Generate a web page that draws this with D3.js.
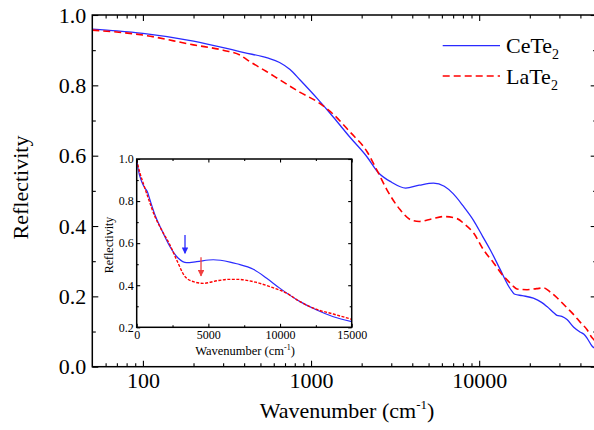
<!DOCTYPE html>
<html><head><meta charset="utf-8">
<script src="https://cdn.jsdelivr.net/npm/d3@7/dist/d3.min.js"></script>
<style>
html,body{margin:0;padding:0;background:#fff;}
svg{display:block;font-family:"Liberation Serif","Times New Roman",serif;}
</style></head>
<body>
<svg id="c" width="594" height="430"></svg>
<script>
// ---------- data ----------
const seriesNames = ["CeTe", "LaTe"];
const seriesColors = ["#2a2aff", "#ff0000"];
// main plot: wavenumber (cm^-1) vs reflectivity
const ceteWave = [50,70,100,200,400,550,650,750,861,1100,1355,1700,2149,2500,3000,3650,4400,5350,6200,7000,8000,9230,10500,11650,13350,15000,15700,16300,18000,21000,23500,25300,28000,29000,31000,33300,36500,40000,42000,44000,47000,50000];
const ceteRefl = [0.960,0.955,0.948,0.926,0.893,0.878,0.865,0.845,0.815,0.760,0.710,0.653,0.597,0.553,0.525,0.508,0.516,0.522,0.513,0.492,0.458,0.417,0.370,0.332,0.276,0.228,0.214,0.206,0.202,0.195,0.183,0.171,0.152,0.146,0.143,0.134,0.112,0.098,0.092,0.080,0.058,0.050];
const lateWave = [50,100,200,300,378,434,540,655,861,1100,1355,1700,2149,2500,2827,3393,3985,4400,5200,6140,7380,8200,9265,10620,12190,13970,14650,16030,16790,19270,22000,24200,26500,29050,33340,36490,39990,43830,46970,50000];
const lateRefl = [0.957,0.943,0.915,0.900,0.886,0.867,0.840,0.815,0.780,0.752,0.718,0.668,0.612,0.553,0.503,0.446,0.416,0.413,0.420,0.427,0.421,0.405,0.380,0.332,0.295,0.257,0.247,0.228,0.221,0.219,0.222,0.224,0.212,0.196,0.167,0.148,0.126,0.105,0.082,0.070];
// inset: linear wavenumber
const insetCeteWave = [0,112,349,579,740,928,1277,1744,2323,2904,3488,4186,5344,6510,6977,8135,9070,10000,11395,12560,13720,15000];
const insetCeteRefl = [1.000,0.948,0.892,0.861,0.845,0.805,0.734,0.662,0.583,0.528,0.507,0.512,0.521,0.510,0.502,0.476,0.433,0.385,0.322,0.282,0.250,0.227];
const insetLateWave = [0,230,460,810,1277,1744,2323,2791,3372,3953,4651,5582,6510,6977,8135,9300,10465,11395,12560,13720,15000];
const insetLateRefl = [0.995,0.932,0.884,0.813,0.726,0.662,0.591,0.520,0.441,0.417,0.409,0.421,0.428,0.428,0.417,0.393,0.362,0.322,0.285,0.263,0.238];
// arrows in inset: [wavenumber, from, to]
const arrowCete = [3370, 0.639, 0.552];
const arrowLate = [4487, 0.533, 0.444];
// ticks
const xMajor = [100, 1000, 10000];
const xMinor = [60,70,80,90,200,300,400,500,600,700,800,900,2000,3000,4000,5000,6000,7000,8000,9000,20000,30000,40000];
const yMajor = [0, 0.2, 0.4, 0.6, 0.8, 1.0];
const yMinor = [0.1, 0.3, 0.5, 0.7, 0.9];
const ixMajor = [0, 5000, 10000, 15000];
const ixMinor = [2500, 7500, 12500];
const iyMajor = [0.2, 0.4, 0.6, 0.8, 1.0];
const iyMinor = [0.3, 0.5, 0.7, 0.9];

// ---------- drawing ----------
const svg = d3.select("#c");
const L = 92.3, R = 596.7, T = 15, B = 366.7;
const x = d3.scaleLog().domain([50, 50000]).range([L, R]);
const y = d3.scaleLinear().domain([0, 1]).range([B, T]);
const fmt1 = d3.format(".1f");

function axes(g, xs, ys, xMaj, xMin, yMaj, yMin, maj, min, fs, xfmt, yfmt, pad) {
  const bx = ys.range()[0], tx = ys.range()[1];
  const lx = xs.range()[0], rx = xs.range()[1];
  const put = (axis, tr, lab) => {
    const a = g.append("g").attr("transform", tr).call(axis);
    a.select(".domain").remove();
    a.selectAll("line").attr("stroke", "#000").attr("stroke-width", 1.1);
    a.selectAll("text").attr("font-family", "Liberation Serif").attr("font-size", fs).attr("fill", "#000");
    if (!lab) a.selectAll("text").remove();
    return a;
  };
  put(d3.axisBottom(xs).tickValues(xMaj).tickSize(-maj).tickPadding(pad).tickFormat(xfmt), `translate(0,${bx})`, true);
  put(d3.axisBottom(xs).tickValues(xMin).tickSize(-min), `translate(0,${bx})`, false);
  put(d3.axisTop(xs).tickValues(xMaj).tickSize(-maj), `translate(0,${tx})`, false);
  put(d3.axisTop(xs).tickValues(xMin).tickSize(-min), `translate(0,${tx})`, false);
  put(d3.axisLeft(ys).tickValues(yMaj).tickSize(-maj).tickPadding(pad).tickFormat(yfmt), `translate(${lx},0)`, true);
  put(d3.axisLeft(ys).tickValues(yMin).tickSize(-min), `translate(${lx},0)`, false);
  put(d3.axisRight(ys).tickValues(yMaj).tickSize(-maj), `translate(${rx},0)`, false);
  put(d3.axisRight(ys).tickValues(yMin).tickSize(-min), `translate(${rx},0)`, false);
  g.append("rect").attr("x", lx).attr("y", tx).attr("width", rx - lx).attr("height", bx - tx)
    .attr("fill", "none").attr("stroke", "#000").attr("stroke-width", 1.5);
}

// main curves
const mainLine = d3.line().x(d => x(d[0])).y(d => y(d[1])).curve(d3.curveMonotoneX);
svg.append("clipPath").attr("id", "mclip").append("rect")
  .attr("x", L).attr("y", T).attr("width", R - L).attr("height", B - T);
const curves = svg.append("g").attr("clip-path", "url(#mclip)");
curves.append("path").datum(d3.zip(ceteWave, ceteRefl)).attr("d", mainLine)
  .attr("fill", "none").attr("stroke", seriesColors[0]).attr("stroke-width", 1.3);
curves.append("path").datum(d3.zip(lateWave, lateRefl)).attr("d", mainLine)
  .attr("fill", "none").attr("stroke", seriesColors[1]).attr("stroke-width", 1.6).attr("stroke-dasharray", "7,4");

const gMain = svg.append("g");
axes(gMain, x, y, xMajor, xMinor, yMajor, yMinor, 6, 3.5, 22, d3.format("d"), fmt1, 6);

// axis titles
const xt = svg.append("text").attr("x", 347).attr("y", 418).attr("text-anchor", "middle")
  .attr("font-size", 22).attr("fill", "#000");
xt.append("tspan").text("Wavenumber (cm");
xt.append("tspan").attr("font-size", 13).attr("dy", -9).text("-1");
xt.append("tspan").attr("dy", 9).text(")");
svg.append("text").attr("transform", "translate(28,187.5) rotate(-90)").attr("text-anchor", "middle")
  .attr("font-size", 22).attr("fill", "#000").text("Reflectivity");

// legend
const legY = [45.7, 76];
seriesNames.forEach((n, i) => {
  const ln = svg.append("line").attr("x1", 442.7).attr("x2", 500).attr("y1", legY[i]).attr("y2", legY[i])
    .attr("stroke", seriesColors[i]).attr("stroke-width", i ? 1.6 : 1.3);
  if (i) ln.attr("stroke-dasharray", "7,4");
  const t = svg.append("text").attr("x", 506).attr("y", legY[i] + 7.5).attr("font-size", 22).attr("fill", "#000");
  t.append("tspan").text(n);
  t.append("tspan").attr("font-size", 14).attr("dy", 6).text("2");
});

// ---------- inset ----------
const iL = 136.7, iR = 351.7, iT = 159, iB = 327.3;
const ix = d3.scaleLinear().domain([0, 15000]).range([iL, iR]);
const iy = d3.scaleLinear().domain([0.2, 1.0]).range([iB, iT]);
svg.append("rect").attr("x", iL).attr("y", iT).attr("width", iR - iL).attr("height", iB - iT).attr("fill", "#fff");
const insetLine = d3.line().x(d => ix(d[0])).y(d => iy(d[1])).curve(d3.curveMonotoneX);
svg.append("path").datum(d3.zip(insetCeteWave, insetCeteRefl)).attr("d", insetLine)
  .attr("fill", "none").attr("stroke", seriesColors[0]).attr("stroke-width", 1.2);
svg.append("path").datum(d3.zip(insetLateWave, insetLateRefl)).attr("d", insetLine)
  .attr("fill", "none").attr("stroke", seriesColors[1]).attr("stroke-width", 1.4).attr("stroke-dasharray", "3,1.5");

// arrows
const defs = svg.append("defs");
[["ab", "#2a2aff"], ["ar", "#f04040"]].forEach(([id, c]) => {
  defs.append("marker").attr("id", id).attr("viewBox", "0 0 10 10").attr("refX", 9).attr("refY", 5)
    .attr("markerWidth", 5).attr("markerHeight", 5).attr("orient", "auto")
    .append("path").attr("d", "M0,0 L10,5 L0,10 z").attr("fill", c);
});
[[arrowCete, "#2a2aff", "ab"], [arrowLate, "#f04040", "ar"]].forEach(([a, c, id]) => {
  svg.append("line").attr("x1", ix(a[0])).attr("x2", ix(a[0])).attr("y1", iy(a[1])).attr("y2", iy(a[2]))
    .attr("stroke", c).attr("stroke-width", 1.3).attr("marker-end", `url(#${id})`);
});

const gIn = svg.append("g");
axes(gIn, ix, iy, ixMajor, ixMinor, iyMajor, iyMinor, 3.5, 2, 12, d3.format("d"), fmt1, 3);

const ixt = svg.append("text").attr("x", 245).attr("y", 355).attr("text-anchor", "middle")
  .attr("font-size", 12.5).attr("fill", "#000");
ixt.append("tspan").text("Wavenumber (cm");
ixt.append("tspan").attr("font-size", 8).attr("dy", -5).text("-1");
ixt.append("tspan").attr("dy", 5).text(")");
svg.append("text").attr("transform", "translate(113,245) rotate(-90)").attr("text-anchor", "middle")
  .attr("font-size", 12).attr("fill", "#000").text("Reflectivity");
</script>
</body></html>
